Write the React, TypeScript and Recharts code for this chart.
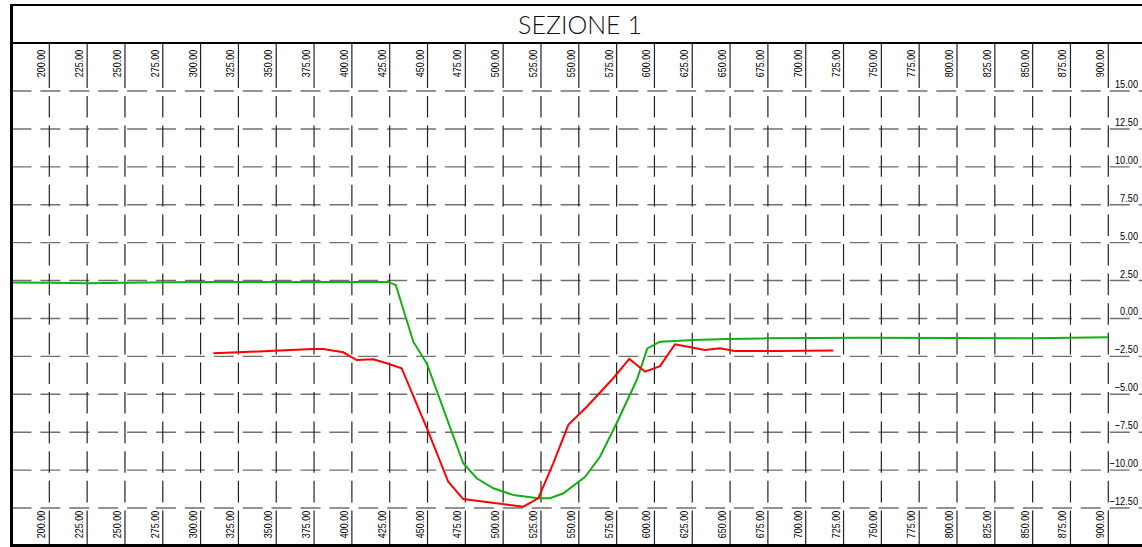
import { CartesianGrid, Line, LineChart, XAxis, YAxis } from 'recharts';

// progressive (m) / quota (m)
const xTicks = [200, 225, 250, 275, 300, 325, 350, 375, 400, 425, 450, 475, 500, 525, 550, 575, 600, 625, 650, 675, 700, 725, 750, 775, 800, 825, 850, 875, 900];
const yTicks = [15, 12.5, 10, 7.5, 5, 2.5, 0, -2.5, -5, -7.5, -10, -12.5];

// terreno (verde)
const greenDist = [175, 200, 225, 250, 300, 350, 400, 424, 429, 440.6, 449.5, 473.6, 482.5, 493.5, 506.7, 523.2, 531.1, 539.8, 554.2, 564.0, 575.0, 588.3, 595.3, 603.7, 625.7, 647.7, 674.2, 735.9, 800, 850, 900];
const greenElev = [2.38, 2.36, 2.33, 2.35, 2.4, 2.4, 2.41, 2.41, 2.21, -1.53, -2.96, -9.55, -10.54, -11.2, -11.64, -11.86, -11.86, -11.53, -10.44, -9.12, -6.91, -4.06, -1.97, -1.53, -1.42, -1.35, -1.31, -1.27, -1.29, -1.31, -1.24];

// progetto (rosso)
const redDist = [308.4, 345, 374.5, 381.1, 394.3, 403.2, 414.2, 423.0, 432.9, 450.5, 463.7, 473.6, 513.3, 523.2, 533.1, 543.1, 555.3, 571.7, 583.4, 593.8, 603.7, 613.6, 625.7, 633.4, 643.3, 653.2, 680.8, 718.2];
const redElev = [-2.3, -2.15, -2.01, -2.01, -2.23, -2.74, -2.69, -2.95, -3.28, -7.47, -10.77, -11.91, -12.41, -11.86, -9.55, -7.02, -5.82, -4.06, -2.67, -3.51, -3.14, -1.7, -1.93, -2.08, -1.97, -2.15, -2.15, -2.12];

const green = greenDist.map((x, i) => ({ x, y: greenElev[i] }));
const red = redDist.map((x, i) => ({ x, y: redElev[i] }));

const labelFont = '"Liberation Sans", Arial, sans-serif';

// vertical lines: solid near the labels, dashed in between
const vDash = '53.8 ' + Array(14).fill('8 21.6').join(' ') + ' 8 200';

const fmt = (v: number) => (v < 0 ? '\u2212' + Math.abs(v).toFixed(2) : v.toFixed(2));

const renderXTick = (props: any) => {
  const { x, payload, index } = props;
  const label = Number(payload.value).toFixed(2);
  return (
    <g key={'xt' + index}>
      <text transform={`translate(${x - 4},63.5) rotate(-90) scale(0.8,1)`} textAnchor="middle" fontSize={11.2} fontFamily={labelFont} fill="#000">{label}</text>
      <text transform={`translate(${x - 4},524.5) rotate(-90) scale(0.8,1)`} textAnchor="middle" fontSize={11.2} fontFamily={labelFont} fill="#000">{label}</text>
    </g>
  );
};

const renderYTick = (props: any) => {
  const { y, payload, index } = props;
  return (
    <text key={'yt' + index} transform={`translate(1138,${y - 3}) scale(0.8,1)`} textAnchor="end" fontSize={11.5} fontFamily={labelFont} fill="#000">{fmt(Number(payload.value))}</text>
  );
};

export default function App() {
  return (
    <div style={{ position: 'absolute', left: 0, top: 0, width: 1142, height: 547, overflow: 'hidden', background: '#fff' }}>
      <div style={{ position: 'absolute', left: 0, top: 0 }}>
        <LineChart width={1160} height={547} margin={{ top: 34.2, right: 13.9, bottom: 0.1, left: 10.5 }}>
          <CartesianGrid vertical={false} stroke="#707070" strokeWidth={1.4} strokeDasharray="20 8.9" />
          <CartesianGrid horizontal={false} stroke="#222" strokeWidth={1.2} strokeDasharray={vDash} />
          <XAxis type="number" dataKey="x" domain={[175, 925]} ticks={xTicks} interval={0} height={1} axisLine={false} tickLine={false} tick={renderXTick} allowDataOverflow />
          <YAxis type="number" dataKey="y" domain={[-15, 18.75]} ticks={yTicks} interval={0} width={1} axisLine={false} tickLine={false} tick={renderYTick} allowDataOverflow />
          <Line data={green} dataKey="y" type="linear" stroke="#13b013" strokeWidth={2} dot={false} isAnimationActive={false} />
          <Line data={red} dataKey="y" type="linear" stroke="#ff0000" strokeWidth={2} dot={false} isAnimationActive={false} />
        </LineChart>
      </div>
      <div style={{ position: 'absolute', left: 10, top: 4, width: 1132, height: 40.3, boxSizing: 'border-box', borderTop: '2.3px solid #000', borderBottom: '2.7px solid #000', background: '#fff', display: 'flex', alignItems: 'center', justifyContent: 'center', paddingLeft: 8, fontFamily: 'Lato, sans-serif', fontWeight: 300, fontSize: 25, color: '#111' }}>
        SEZIONE 1
      </div>
      <div style={{ position: 'absolute', left: 10, top: 4, width: 3.4, height: 543, background: '#000' }} />
      <div style={{ position: 'absolute', left: 10, top: 544, width: 1132, height: 3, background: '#000' }} />
    </div>
  );
}
